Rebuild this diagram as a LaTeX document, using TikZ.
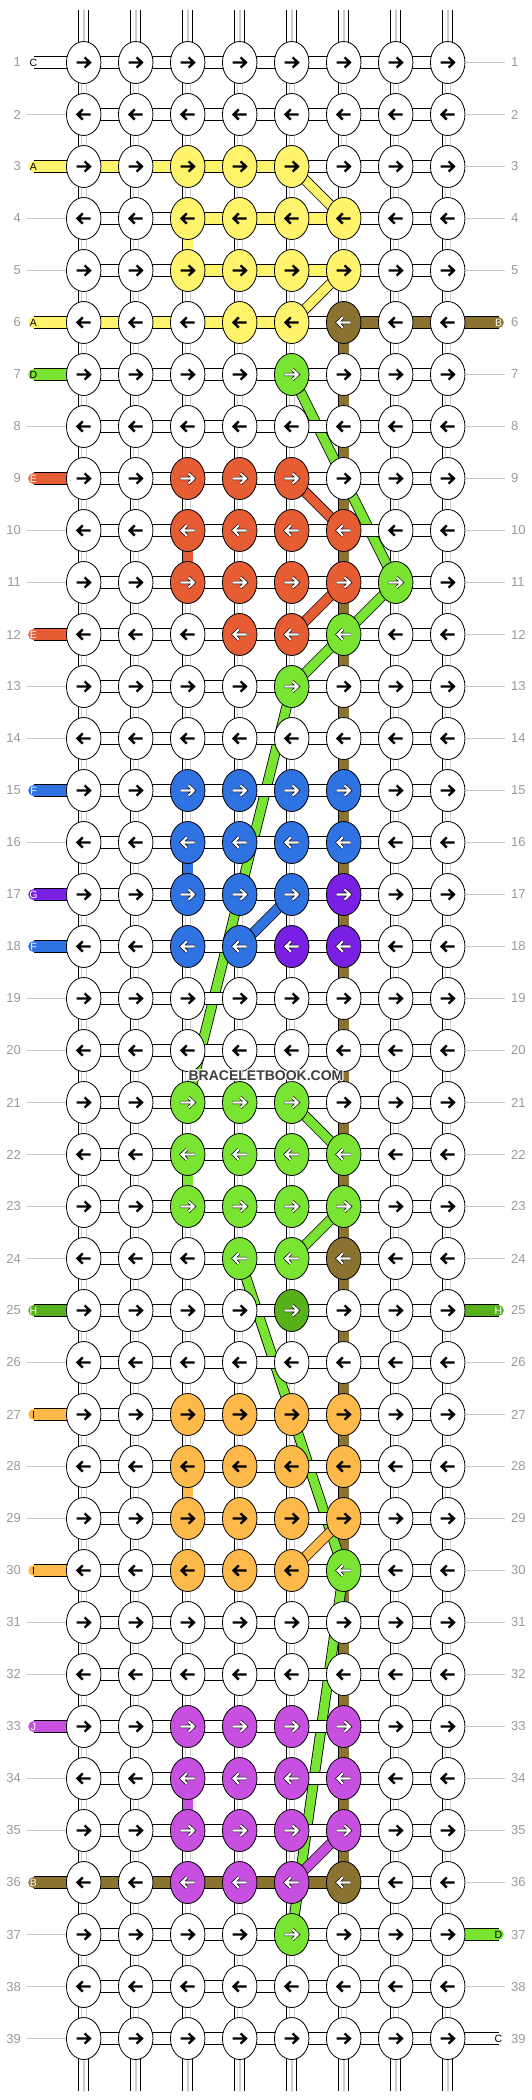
\documentclass[tikz,border=0pt]{standalone}
\usepackage{fontspec}
\setmainfont{Liberation Sans}
\usepackage{contour}
\usetikzlibrary{shapes.geometric}

\definecolor{thA}{HTML}{FFF46B}
\definecolor{thB}{HTML}{8A7230}
\definecolor{thC}{HTML}{FFFFFF}
\definecolor{thD}{HTML}{7AE432}
\definecolor{thE}{HTML}{E65C33}
\definecolor{thF}{HTML}{2F73E3}
\definecolor{thG}{HTML}{7A20E4}
\definecolor{thH}{HTML}{56B11B}
\definecolor{thI}{HTML}{FDBA4A}
\definecolor{thJ}{HTML}{C850E0}
\definecolor{rowgray}{HTML}{999999}
\definecolor{guide}{HTML}{C4C4C4}
\definecolor{core}{HTML}{CDCDCD}
\definecolor{mark}{HTML}{3E3E3E}

\pgfdeclarelayer{tubes}
\pgfdeclarelayer{diags}
\pgfdeclarelayer{bars}
\pgfsetlayers{tubes,diags,bars,main}

\contourlength{0.9pt}

\tikzset{
  knot/.style={ellipse, draw=black, line width=0.8, minimum width=34.5, minimum height=42, inner sep=0},
  dark/.style={draw=black, line width=2.4},
  light/.style={draw=black, line width=0.65, double=white, double distance=2.1},
  inkA/.style={dark}, inkC/.style={dark}, inkI/.style={dark},
  inkB/.style={light}, inkD/.style={light}, inkE/.style={light}, inkF/.style={light},
  inkG/.style={light}, inkH/.style={light}, inkJ/.style={light},
  tube/.style={preaction={draw=black, line width=11}, draw=white, line width=9.4,
               postaction={draw=core, line width=1.8}},
  band/.style={preaction={draw=black, line width=11.5}, draw=#1, line width=9.9},
  tubeC/.style={preaction={draw=black, line width=11.5}, draw=white, line width=9.9,
               postaction={draw=core, line width=0.9, double=white, double distance=3.8}},
  tubeA/.style={band=thA}, tubeB/.style={band=thB}, tubeD/.style={band=thD},
  tubeE/.style={band=thE}, tubeF/.style={band=thF}, tubeI/.style={band=thI},
  tubeJ/.style={band=thJ},
  bar/.style={preaction={draw=black, line width=12.2}, draw=#1, line width=10.6},
  diag/.style={preaction={draw=black, line width=10.5}, draw=#1, line width=8.9},
  guideline/.style={draw=guide, line width=1},
  rownum/.style={text=rowgray, font=\fontsize{13}{13}\selectfont, inner sep=0},
  tag/.style={font=\fontsize{10.5}{10.5}\selectfont, inner sep=0}
}

% colour of a cell, C (white) if not set
\newcommand\fetch[1]{\ifcsname #1\endcsname\edef\t{\csname #1\endcsname}\else\def\t{C}\fi}

% coloured knots: row/first col/last col/thread
\foreach \r/\a/\b/\t in {3/3/5/A, 4/3/6/A, 5/3/6/A, 6/4/5/A, 6/6/6/B, 7/5/5/D,
    9/3/5/E, 10/3/6/E, 11/3/6/E, 11/7/7/D, 12/4/5/E, 12/6/6/D, 13/5/5/D,
    15/3/6/F, 16/3/6/F, 17/3/5/F, 17/6/6/G, 18/3/4/F, 18/5/6/G,
    21/3/5/D, 22/3/6/D, 23/3/6/D, 24/4/5/D, 24/6/6/B, 25/5/5/H,
    27/3/6/I, 28/3/6/I, 29/3/6/I, 30/3/5/I, 30/6/6/D,
    33/3/6/J, 34/3/6/J, 35/3/6/J, 36/3/5/J, 36/6/6/B, 37/5/5/D}
  {\foreach \c in {\a,...,\b} {\expandafter\xdef\csname kn@\r @\c\endcsname{\t}}}
% coloured bars: row/first bar/last bar/thread
\foreach \r/\a/\b/\t in {3/1/4/A, 4/3/5/A, 5/3/5/A, 6/1/4/A, 6/6/7/B, 36/1/5/B}
  {\foreach \c in {\a,...,\b} {\expandafter\xdef\csname br@\r @\c\endcsname{\t}}}
% coloured tubes: column/first row/last row/thread
\foreach \c/\a/\b/\t in {3/4/4/A, 3/10/10/E, 3/16/16/F, 3/22/22/D, 3/28/28/I, 3/34/34/J, 6/6/35/B}
  {\foreach \r in {\a,...,\b} {\expandafter\xdef\csname tb@\r @\c\endcsname{\t}}}

\begin{document}
\begin{tikzpicture}[x=1pt, y=-1pt]
\useasboundingbox (0,0) rectangle (532,2100);

% knots with their arrows
\foreach \r in {1,...,39} {
  \pgfmathtruncatemacro\dir{2*mod(\r,2)-1}
  \foreach \c in {1,...,8} {
    \fetch{kn@\r @\c}
    \node[knot, fill=th\t] (k-\r-\c) at ({83.7+52*(\c-1)}, {62.5+52*(\r-1)}) {};
    \draw[ink\t, shift={(k-\r-\c.center)}, xscale=\dir]
      (-7,0) -- (5.8,0) (0.9,-5.1) -- (6.2,0) -- (0.9,5.1);
  }
}

% vertical threads
\begin{pgfonlayer}{tubes}
\foreach \c in {1,...,8} {
  \coordinate (top-\c) at ({83.7+52*(\c-1)}, 10);
  \coordinate (bot-\c) at ({83.7+52*(\c-1)}, 2091);
  \draw[tube, line cap=round] (top-\c) -- (k-1-\c.center);
  \draw[tube, line cap=round] (k-39-\c.center) -- (bot-\c);
}
\foreach \r [evaluate=\r as \s using int(\r+1)] in {1,...,38} {
  \foreach \c in {1,...,8} {
    \fetch{tb@\r @\c}
    \draw[tube\t] (k-\r-\c.center) -- (k-\s-\c.center);
  }
}
\end{pgfonlayer}

% diagonal threads
\begin{pgfonlayer}{diags}
\foreach \a/\b/\t in {3-5/4-6/A, 5-6/6-5/A, 7-5/11-7/D, 11-7/12-6/D, 12-6/13-5/D,
    13-5/21-3/D, 21-5/22-6/D, 23-6/24-5/D, 24-4/30-6/D, 30-6/37-5/D,
    9-5/10-6/E, 11-6/12-5/E, 17-5/18-4/F, 29-6/30-5/I, 35-6/36-5/J} {
  \draw[diag=th\t] (k-\a.center) -- (k-\b.center);
}
\end{pgfonlayer}

% horizontal threads
\begin{pgfonlayer}{bars}
\foreach \r in {1,...,39} {
  \foreach \c [evaluate=\c as \n using int(\c+1)] in {1,...,7} {
    \fetch{br@\r @\c}
    \draw[bar=th\t] (k-\r-\c.center) -- (k-\r-\n.center);
  }
}
\end{pgfonlayer}

% row numbers
\foreach \r in {1,...,39} {
  \node[rownum, anchor=east] (nl-\r) at (21, {62.5+52*(\r-1)}) {\r};
  \node[rownum, anchor=west] (nr-\r) at (511, {62.5+52*(\r-1)}) {\r};
}
\foreach \r in {2,4,5,8,10,11,13,14,16,19,20,21,22,23,24,26,28,29,31,32,34,35,37,38,39} {
  \draw[guideline] ([xshift=5.6pt]nl-\r.east) -- (k-\r-1.west);
}
\foreach \r in {1,2,3,4,5,7,8,9,10,11,12,13,14,15,16,17,18,19,20,21,22,23,24,26,27,28,29,30,31,32,33,34,35,36,38} {
  \draw[guideline] (k-\r-8.east) -- ([xshift=-5.6pt]nr-\r.west);
}

% thread ends
\foreach \r/\t/\ink in {1/C/black, 3/A/black, 6/A/black, 7/D/black, 9/E/white, 12/E/white,
    15/F/white, 17/G/white, 18/F/white, 25/H/white, 27/I/black, 30/I/black, 33/J/white, 36/B/white} {
  \node[tag, text=\ink] (sl-\r) at (33.5, {62.5+52*(\r-1)}) {\t};
  \begin{pgfonlayer}{bars}
    \draw[bar=th\t, line cap=round] (sl-\r.center) -- (k-\r-1.center);
  \end{pgfonlayer}
}
\foreach \r/\t/\ink in {6/B/white, 25/H/white, 37/D/black, 39/C/black} {
  \node[tag, text=\ink] (sr-\r) at (498.5, {62.5+52*(\r-1)}) {\t};
  \begin{pgfonlayer}{bars}
    \draw[bar=th\t, line cap=round] (k-\r-8.center) -- (sr-\r.center);
  \end{pgfonlayer}
}

\node[text=mark, font=\bfseries\fontsize{14}{14}\selectfont, inner sep=0] (wm) at (266, 1076)
  {\contour{white}{BRACELETBOOK.COM}};
\end{tikzpicture}
\end{document}
